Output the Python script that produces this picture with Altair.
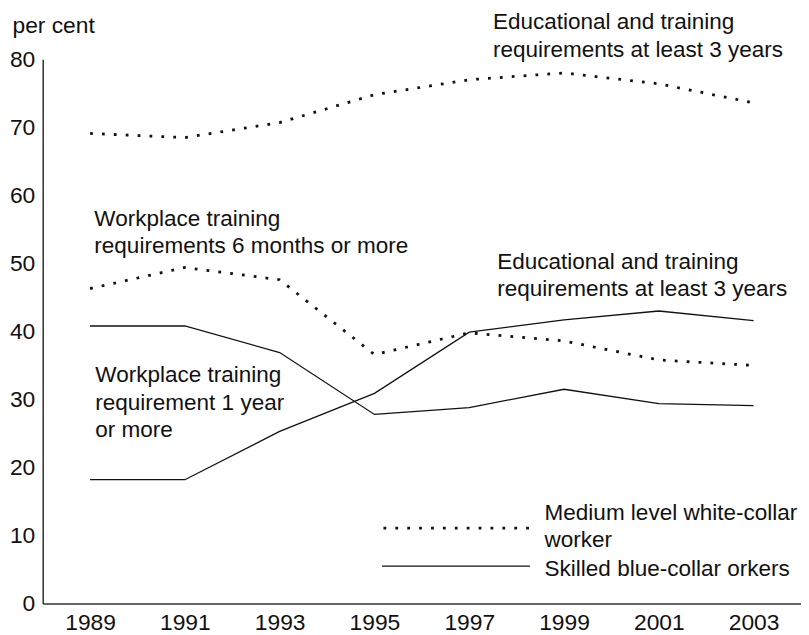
import altair as alt
import pandas as pd

# ---- data ----
years = [1989, 1991, 1993, 1995, 1997, 1999, 2001, 2003]
wc_edu = [69.1, 68.5, 70.7, 74.8, 77.0, 78.0, 76.4, 73.6]      # white-collar, education >= 3 years
wc_work = [46.3, 49.4, 47.6, 36.6, 39.8, 38.6, 35.8, 35.0]     # white-collar, workplace training >= 6 months
bc_work = [40.8, 40.8, 36.9, 27.8, 28.8, 31.5, 29.4, 29.1]     # blue-collar, workplace training >= 1 year
bc_edu = [18.2, 18.2, 25.3, 30.9, 39.9, 41.7, 43.0, 41.6]      # blue-collar, education >= 3 years
tick_years = [1989, 1991, 1993, 1995, 1997, 1999, 2001, 2003]
y_ticks = [0, 10, 20, 30, 40, 50, 60, 70, 80]

ann_text = [
    "Educational and training\nrequirements at least 3 years",
    "Workplace training\nrequirements 6 months or more",
    "Educational and training\nrequirements at least 3 years",
    "Workplace training\nrequirement 1 year\nor more",
    "Medium level white-collar\nworker",
    "Skilled blue-collar orkers",
]
ann_x = [1997.50, 1989.09, 1997.59, 1989.11, 1998.59, 1998.59]
ann_y = [84.4, 55.5, 49.25, 32.5, 12.3, 4.1]

legend_style = ["dotted", "solid"]
legend_x1 = [1995.19, 1995.16]
legend_x2 = [1998.28, 1998.28]
legend_y = [11.1, 5.5]

FONT = "Liberation Sans"

dotted = pd.DataFrame({
    "year": years * 2,
    "value": wc_edu + wc_work,
    "series": ["wc_edu"] * len(years) + ["wc_work"] * len(years),
})
solid = pd.DataFrame({
    "year": years * 2,
    "value": bc_work + bc_edu,
    "series": ["bc_work"] * len(years) + ["bc_edu"] * len(years),
})
ann = pd.DataFrame({"x": ann_x, "y": ann_y, "text": ann_text})
leg = pd.DataFrame({"style": legend_style, "x1": legend_x1, "x2": legend_x2, "y": legend_y})

xscale = alt.Scale(domain=[1988, 2004], nice=False, zero=False)
yscale = alt.Scale(domain=[0, 80], nice=False)

xaxis = alt.Axis(values=tick_years, format="d", title=None, ticks=False, grid=False,
                 labelFontSize=23, labelFont=FONT, labelColor="#111", labelPadding=8,
                 domainColor="#333", domainWidth=1.6, labelFlush=False)
yaxis = alt.Axis(values=y_ticks, title="per cent", titleAngle=0, titleAlign="left",
                 titleBaseline="alphabetic", titleX=-31, titleY=-27, titleFontSize=23,
                 titleFont=FONT, titleFontWeight="normal", titleColor="#111",
                 ticks=False, grid=False, labelFontSize=23, labelFont=FONT,
                 labelColor="#111", labelPadding=8, domainColor="#111", domainWidth=1.3)

dot_layer = alt.Chart(dotted).mark_line(
    color="#111", strokeWidth=2.8, strokeDash=[2.8, 9.2], strokeCap="butt"
).encode(
    x=alt.X("year:Q", scale=xscale, axis=xaxis),
    y=alt.Y("value:Q", scale=yscale, axis=yaxis),
    detail="series:N",
)

solid_layer = alt.Chart(solid).mark_line(color="#111", strokeWidth=1.3).encode(
    x=alt.X("year:Q", scale=xscale),
    y=alt.Y("value:Q", scale=yscale),
    detail="series:N",
)

leg_dot = alt.Chart(leg[leg["style"] == "dotted"]).mark_rule(
    color="#111", strokeWidth=2.8, strokeDash=[2.8, 9.2], strokeCap="butt"
).encode(x=alt.X("x1:Q", scale=xscale), x2="x2:Q", y=alt.Y("y:Q", scale=yscale))

leg_solid = alt.Chart(leg[leg["style"] == "solid"]).mark_rule(
    color="#111", strokeWidth=1.3
).encode(x=alt.X("x1:Q", scale=xscale), x2="x2:Q", y=alt.Y("y:Q", scale=yscale))

text_layer = alt.Chart(ann).mark_text(
    align="left", baseline="alphabetic", fontSize=22.7, font=FONT, color="#111",
    lineBreak="\n", lineHeight=27.5
).encode(
    x=alt.X("x:Q", scale=xscale),
    y=alt.Y("y:Q", scale=yscale),
    text="text:N",
)

chart = alt.layer(dot_layer, solid_layer, leg_dot, leg_solid, text_layer).properties(
    width=765, height=549,
    autosize=alt.AutoSizeParams(type="none"),
    padding={"left": 35, "top": 49, "right": 0, "bottom": 32},
    background="white",
).configure_view(stroke=None)

chart.save("out.html", embed_options={"renderer": "svg", "actions": False})
